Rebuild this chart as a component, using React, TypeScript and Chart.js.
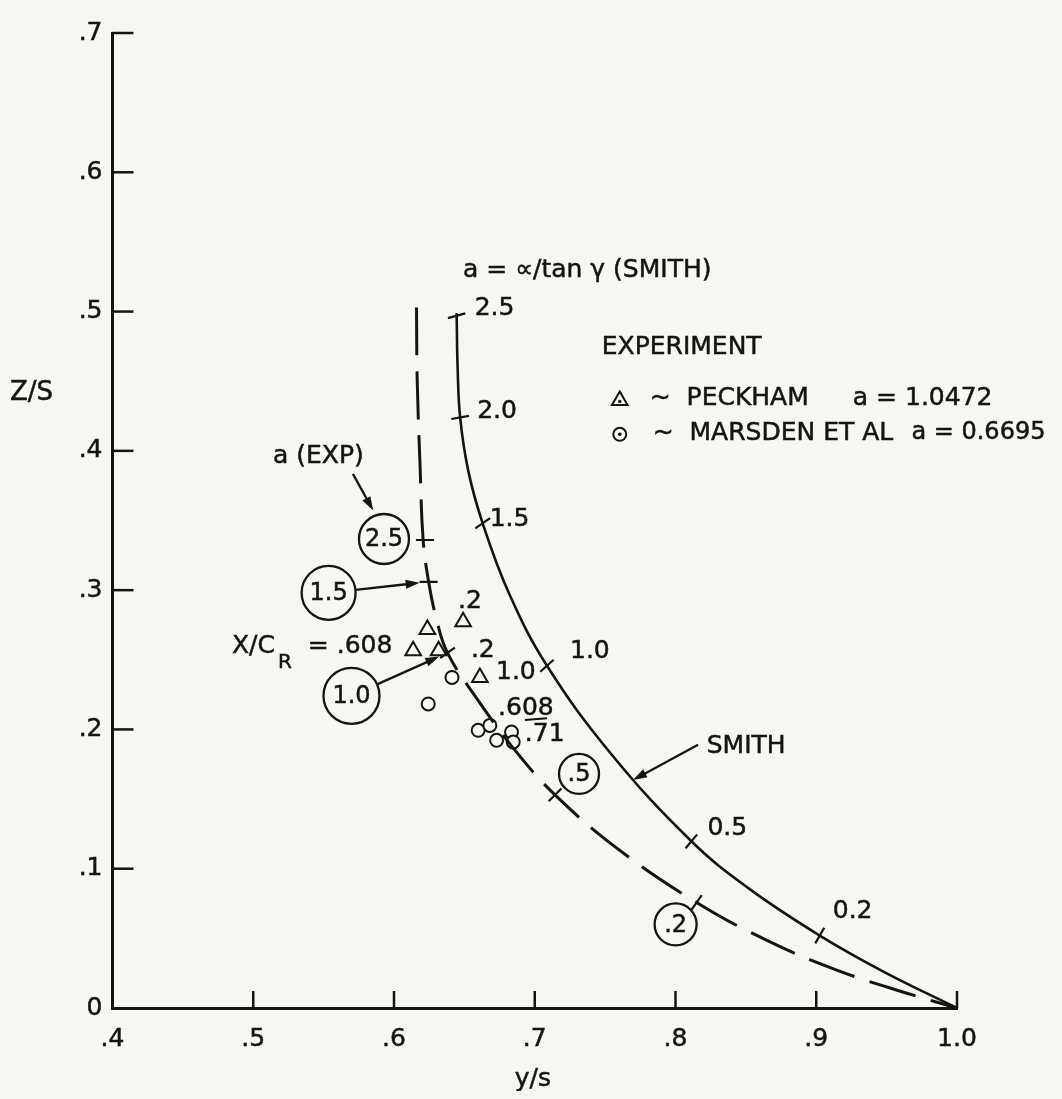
import React, { useEffect, useRef } from 'react';
import { Chart, registerables } from 'chart.js';

Chart.register(...registerables);

const INK = '#141414';
const PAPER = '#f6f6f3';
const FONT = '"DejaVu Sans", "Noto Sans", sans-serif';

// ---- axes ----
const xTickLabels = ['.4', '.5', '.6', '.7', '.8', '.9', '1.0'];
const yTickLabels = ['0', '.1', '.2', '.3', '.4', '.5', '.6', '.7'];

// ---- Smith theory curve (solid) ----
const smithX = [0.6445, 0.6452, 0.647, 0.6527, 0.663, 0.682, 0.7087, 0.754, 0.8113, 0.852, 0.9025, 0.948, 1.0];
const smithY = [0.499, 0.46, 0.424, 0.386, 0.348, 0.297, 0.2457, 0.1827, 0.1197, 0.0859, 0.052, 0.026, 0.0];

// ---- experimental curve (dashed) ----
const expX = [0.616, 0.6165, 0.6185, 0.6207, 0.6246, 0.63, 0.638, 0.659, 0.686, 0.7144, 0.7588, 0.815, 0.865, 0.915, 0.968, 1.0];
const expY = [0.503, 0.45, 0.39, 0.336, 0.306, 0.28, 0.255, 0.222, 0.185, 0.153, 0.1144, 0.0758, 0.0485, 0.027, 0.0095, 0.0];

// ---- a-value marks on the Smith curve ----
const smithTickX = [0.6445, 0.647, 0.663, 0.7087, 0.8113, 0.9025];
const smithTickY = [0.497, 0.424, 0.348, 0.2457, 0.1197, 0.052];
const smithTickLabels = ['2.5', '2.0', '1.5', '1.0', '0.5', '0.2'];

// ---- a-value marks on the experimental curve ----
const expTickX = [0.622, 0.6246, 0.638, 0.7144, 0.815];
const expTickY = [0.336, 0.306, 0.255, 0.153, 0.0758];
const expTickLabels = ['2.5', '1.5', '1.0', '.5', '.2'];

// ---- experiment points ----
const peckhamX = [0.6237, 0.6136, 0.6317, 0.6491, 0.661];
const peckhamY = [0.2718, 0.2564, 0.2564, 0.2773, 0.2373];
const marsdenX = [0.6412, 0.6243, 0.6598, 0.6681, 0.6729, 0.6835, 0.6847];
const marsdenY = [0.2373, 0.2183, 0.1994, 0.2029, 0.1922, 0.1981, 0.191];

// ---- styles (not data) ----
const smithTickAngles = [-15, -10, -35, -42, -50, -60];
const smithLabelOffsets = [[18, -7], [17, -6], [7, -4], [23, -14], [16, -13], [13, -24]];
const expTickAngles = [0, 0, -35, -45, -55];
const expLabelPlace = [
  { dx: -41, dy: -1, r: 25, arrow: false },
  { dx: -100, dy: 11, r: 27, arrow: true },
  { dx: -96, dy: 43, r: 28, arrow: true },
  { dx: 24, dy: -21, r: 20, arrow: false },
  { dx: -21, dy: 22, r: 21, arrow: false },
];

type Txt = { t: string; x: number; y: number; align: CanvasTextAlign; size: number };
const texts: Txt[] = [
  { t: 'a = ∝/tan γ (SMITH)', x: 0.649, y: 0.5296, align: 'left', size: 25 },
  { t: 'EXPERIMENT', x: 0.7476, y: 0.474, align: 'left', size: 25 },
  { t: '~  PECKHAM', x: 0.7817, y: 0.4376, align: 'left', size: 25 },
  { t: 'a = 1.0472', x: 0.926, y: 0.4376, align: 'left', size: 25 },
  { t: '~  MARSDEN ET AL', x: 0.7838, y: 0.4127, align: 'left', size: 25 },
  { t: 'a = 0.6695', x: 0.9676, y: 0.4127, align: 'left', size: 24 },
  { t: 'Z/S', x: 0.3272, y: 0.4412, align: 'left', size: 26 },
  { t: 'a (EXP)', x: 0.514, y: 0.396, align: 'left', size: 25 },
  { t: '.2', x: 0.6539, y: 0.2922, align: 'center', size: 25 },
  { t: '.2', x: 0.6631, y: 0.2566, align: 'center', size: 25 },
  { t: '1.0', x: 0.6866, y: 0.2409, align: 'center', size: 25 },
  { t: '.608', x: 0.6937, y: 0.2152, align: 'center', size: 25 },
  { t: '.71', x: 0.7071, y: 0.1967, align: 'center', size: 25 },
  { t: 'SMITH', x: 0.8222, y: 0.1875, align: 'left', size: 25 },
  { t: 'y/s', x: 0.6987, y: -0.0513, align: 'center', size: 25 },
];
const arrows = [
  { x1: 0.5708, y1: 0.3835, x2: 0.5852, y2: 0.3571 },
  { x1: 0.816, y1: 0.189, x2: 0.7698, y2: 0.1637 },
];
const legendTri = { x: 0.7604, y: 0.4362 };
const legendCirc = { x: 0.7604, y: 0.4119 };

const pts = (xs: number[], ys: number[]) => xs.map((x, i) => ({ x, y: ys[i] }));

function arrow(ctx: CanvasRenderingContext2D, x1: number, y1: number, x2: number, y2: number) {
  const a = Math.atan2(y2 - y1, x2 - x1);
  const L = 14, W = 4.5;
  ctx.beginPath();
  ctx.moveTo(x1, y1);
  ctx.lineTo(x2 - Math.cos(a) * L * 0.8, y2 - Math.sin(a) * L * 0.8);
  ctx.stroke();
  ctx.beginPath();
  ctx.moveTo(x2, y2);
  ctx.lineTo(x2 - Math.cos(a) * L - Math.sin(a) * W, y2 - Math.sin(a) * L + Math.cos(a) * W);
  ctx.lineTo(x2 - Math.cos(a) * L + Math.sin(a) * W, y2 - Math.sin(a) * L - Math.cos(a) * W);
  ctx.closePath();
  ctx.fill();
}

function text(ctx: CanvasRenderingContext2D, s: string, x: number, y: number) {
  ctx.fillText(s, x, y);
  ctx.strokeText(s, x, y);
}

const overlay = {
  id: 'overlay',
  beforeDraw(chart: any) {
    const { ctx, width, height } = chart;
    ctx.save();
    ctx.fillStyle = PAPER;
    ctx.fillRect(0, 0, width, height);
    ctx.restore();
  },
  afterDraw(chart: any) {
    const { ctx, chartArea: area } = chart;
    const xs = chart.scales.x, ys = chart.scales.y;
    const X = (v: number) => xs.getPixelForValue(v);
    const Y = (v: number) => ys.getPixelForValue(v);
    ctx.save();
    ctx.strokeStyle = INK;
    ctx.fillStyle = INK;
    ctx.lineCap = 'butt';
    // inward tick marks
    ctx.lineWidth = 2.5;
    xs.ticks.forEach((t: any) => {
      const px = xs.getPixelForValue(t.value);
      if (Math.abs(px - area.left) < 2) return;
      ctx.beginPath(); ctx.moveTo(px, area.bottom); ctx.lineTo(px, area.bottom - 17); ctx.stroke();
    });
    ys.ticks.forEach((t: any) => {
      const py = ys.getPixelForValue(t.value);
      if (Math.abs(py - area.bottom) < 2) return;
      ctx.beginPath(); ctx.moveTo(area.left, py); ctx.lineTo(area.left + 21, py); ctx.stroke();
    });
    ctx.textBaseline = 'middle';
    ctx.lineWidth = 0.5;
    // texts
    texts.forEach((o) => {
      ctx.font = `${o.size}px ${FONT}`;
      ctx.textAlign = o.align;
      text(ctx, o.t, X(o.x), Y(o.y));
    });
    // X/C_R = .608
    ctx.textAlign = 'left';
    ctx.font = `25px ${FONT}`;
    const bx = X(0.4849), by = Y(0.2594);
    text(ctx, 'X/C', bx, by);
    const w1 = ctx.measureText('X/C').width;
    ctx.font = `20px ${FONT}`;
    text(ctx, 'R', bx + w1 + 3, by + 16);
    ctx.font = `25px ${FONT}`;
    text(ctx, '= .608', X(0.5388), by);
    // smith curve labels
    smithTickLabels.forEach((s, i) => {
      text(ctx, s, X(smithTickX[i]) + smithLabelOffsets[i][0], Y(smithTickY[i]) + smithLabelOffsets[i][1]);
    });
    // small dash between .608 and .71
    ctx.lineWidth = 2;
    ctx.beginPath(); ctx.moveTo(X(0.693), Y(0.2067)); ctx.lineTo(X(0.7087), Y(0.2081)); ctx.stroke();
    // circled experimental labels
    expTickLabels.forEach((s, i) => {
      const p = expLabelPlace[i];
      const tx = X(expTickX[i]), ty = Y(expTickY[i]);
      const cx = tx + p.dx, cy = ty + p.dy;
      ctx.lineWidth = 2.3;
      ctx.beginPath(); ctx.arc(cx, cy, p.r, 0, Math.PI * 2); ctx.stroke();
      if (p.arrow) {
        const a = Math.atan2(ty - cy, tx - cx);
        arrow(ctx, cx + Math.cos(a) * p.r, cy + Math.sin(a) * p.r, tx - Math.cos(a) * 9, ty - Math.sin(a) * 9);
      }
      ctx.textAlign = 'center';
      ctx.font = `24px ${FONT}`;
      ctx.lineWidth = 0.5;
      text(ctx, s, cx, cy + 1);
    });
    // arrows
    ctx.lineWidth = 2.3;
    arrows.forEach((a) => arrow(ctx, X(a.x1), Y(a.y1), X(a.x2), Y(a.y2)));
    // legend markers
    const r = 9;
    ctx.lineWidth = 2;
    const lx = X(legendTri.x), ly = Y(legendTri.y);
    ctx.fillStyle = PAPER;
    ctx.beginPath();
    ctx.moveTo(lx, ly - r);
    ctx.lineTo(lx + r * 0.866, ly + r / 2);
    ctx.lineTo(lx - r * 0.866, ly + r / 2);
    ctx.closePath();
    ctx.fill(); ctx.stroke();
    const cx2 = X(legendCirc.x), cy2 = Y(legendCirc.y);
    ctx.beginPath(); ctx.arc(cx2, cy2, 6.5, 0, Math.PI * 2); ctx.fill(); ctx.stroke();
    ctx.fillStyle = INK;
    ctx.beginPath(); ctx.arc(lx, ly + 1, 1.8, 0, Math.PI * 2); ctx.fill();
    ctx.beginPath(); ctx.arc(cx2, cy2, 1.8, 0, Math.PI * 2); ctx.fill();
    ctx.restore();
  },
};

export default function App() {
  const ref = useRef<HTMLCanvasElement>(null);
  useEffect(() => {
    document.body.style.background = PAPER;
    const chart = new Chart(ref.current as HTMLCanvasElement, {
      type: 'scatter',
      data: {
        datasets: [
          {
            data: pts(smithX, smithY), showLine: true, borderColor: INK, borderWidth: 2.6,
            pointRadius: 0, tension: 0.4, fill: false,
          },
          {
            data: pts(expX, expY), showLine: true, borderColor: INK, borderWidth: 3,
            borderDash: [48, 16], pointRadius: 0, tension: 0.4, fill: false,
          },
          {
            data: pts(smithTickX, smithTickY), pointStyle: 'line', pointRadius: 9,
            rotation: smithTickAngles, borderColor: INK, borderWidth: 2.2, showLine: false,
          },
          {
            data: pts(expTickX, expTickY), pointStyle: 'line', pointRadius: 9,
            rotation: expTickAngles, borderColor: INK, borderWidth: 2.2, showLine: false,
          },
          {
            data: pts(peckhamX, peckhamY), pointStyle: 'triangle', pointRadius: 9,
            backgroundColor: PAPER, borderColor: INK, borderWidth: 2, showLine: false,
          },
          {
            data: pts(peckhamX, peckhamY), pointStyle: 'circle', pointRadius: 1.8,
            backgroundColor: INK, borderColor: INK, borderWidth: 0, showLine: false,
          },
          {
            data: pts(marsdenX, marsdenY), pointStyle: 'circle', pointRadius: 6.5,
            backgroundColor: PAPER, borderColor: INK, borderWidth: 2, showLine: false,
          },
          {
            data: pts(marsdenX, marsdenY), pointStyle: 'circle', pointRadius: 1.8,
            backgroundColor: INK, borderColor: INK, borderWidth: 0, showLine: false,
          },
        ],
      },
      options: {
        animation: false,
        responsive: true,
        maintainAspectRatio: false,
        events: [],
        layout: { padding: { top: 18, right: 97, left: 0, bottom: 0 } },
        plugins: { legend: { display: false }, tooltip: { enabled: false } },
        scales: {
          x: {
            type: 'linear', min: 0.4, max: 1.0,
            afterFit: (s: any) => { s.height = 83; },
            grid: { drawOnChartArea: false, drawTicks: false },
            border: { display: true, color: INK, width: 3 },
            ticks: {
              stepSize: 0.1, autoSkip: false, maxRotation: 0, padding: 16, color: INK,
              textStrokeColor: INK, textStrokeWidth: 0.5,
              font: { family: FONT, size: 25 },
              callback: (_v: any, i: number) => xTickLabels[i],
            },
          },
          y: {
            type: 'linear', min: 0, max: 0.7,
            afterFit: (s: any) => { s.width = 104.5; },
            grid: { drawOnChartArea: false, drawTicks: false },
            border: { display: true, color: INK, width: 3 },
            ticks: {
              stepSize: 0.1, autoSkip: false, padding: 10, color: INK,
              textStrokeColor: INK, textStrokeWidth: 0.5,
              font: { family: FONT, size: 25 },
              callback: (_v: any, i: number) => yTickLabels[i],
            },
          },
        },
      },
      plugins: [overlay],
    } as any);
    return () => chart.destroy();
  }, []);
  return (
    <div style={{ width: 1046, height: 1083, position: 'relative' }}>
      <canvas ref={ref} />
    </div>
  );
}
